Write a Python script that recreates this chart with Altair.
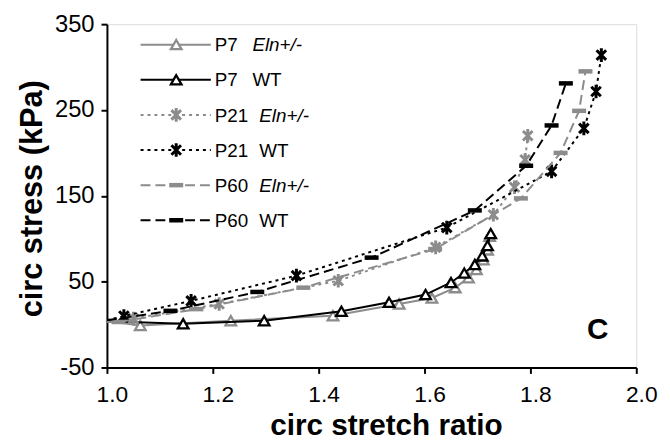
import altair as alt
import pandas as pd

# ---------------- data ----------------
p7_eln_x = [1.00, 1.063, 1.234, 1.427, 1.552, 1.614, 1.658, 1.683, 1.698, 1.711, 1.719, 1.723]
p7_eln_y = [4, -1, 4.5, 10.3, 24, 31, 43, 54.5, 64, 75.6, 87, 103]

p7_wt_x = [1.00, 1.144, 1.297, 1.443, 1.533, 1.602, 1.650, 1.675, 1.695, 1.709, 1.719, 1.725]
p7_wt_y = [4, 1, 4.5, 15.5, 26, 35, 49, 60, 70, 80, 92, 106]

p21_eln_x = [1.00, 1.05, 1.212, 1.437, 1.621, 1.730, 1.770, 1.790, 1.795]
p21_eln_y = [4, 7, 24, 51, 90, 128, 160, 192, 220]

p21_wt_x = [1.00, 1.032, 1.159, 1.358, 1.642, 1.840, 1.901, 1.924, 1.934]
p21_wt_y = [5, 10, 27.6, 57, 113, 178.5, 228.6, 271.6, 314]

p60_eln_x = [1.00, 1.022, 1.169, 1.371, 1.62, 1.782, 1.857, 1.892, 1.904]
p60_eln_y = [3, 3, 18, 43, 88, 147, 200, 249, 295]

p60_wt_x = [1.00, 1.12, 1.284, 1.50, 1.695, 1.792, 1.840, 1.867]
p60_wt_y = [5, 16, 38, 78, 133, 185, 232, 281]

x_ticks = [1.0, 1.2, 1.4, 1.6, 1.8, 2.0]
y_ticks = [-50, 50, 150, 250, 350]

# ---------------- styles ----------------
GRAY = "#8c8c8c"
BLACK = "#000000"
FONT = "Liberation Sans"
ASTER = "M-0.7,-0.7L0.7,0.7M-0.7,0.7L0.7,-0.7M0,-1L0,1"
BAR = "M-1,-0.32L1,-0.32L1,0.32L-1,0.32Z"

series = [
    dict(age="P7", tag="Eln+/-", italic=True, x=p7_eln_x, y=p7_eln_y, color=GRAY, dash=None, marker="tri"),
    dict(age="P7", tag="WT", italic=False, x=p7_wt_x, y=p7_wt_y, color=BLACK, dash=None, marker="tri"),
    dict(age="P21", tag="Eln+/-", italic=True, x=p21_eln_x, y=p21_eln_y, color=GRAY, dash=[3, 4], marker="ast"),
    dict(age="P21", tag="WT", italic=False, x=p21_wt_x, y=p21_wt_y, color=BLACK, dash=[3, 4], marker="ast"),
    dict(age="P60", tag="Eln+/-", italic=True, x=p60_eln_x, y=p60_eln_y, color=GRAY, dash=[10, 5], marker="bar"),
    dict(age="P60", tag="WT", italic=False, x=p60_wt_x, y=p60_wt_y, color=BLACK, dash=[10, 5], marker="bar"),
]


def marker_props(kind, color):
    if kind == "tri":
        return dict(shape="triangle-up", filled=True, fill="white", stroke=color,
                    strokeWidth=2.3, size=115, opacity=1)
    if kind == "ast":
        return dict(shape=ASTER, filled=False, stroke=color, strokeWidth=3,
                    size=190, opacity=1)
    return dict(shape=BAR, filled=True, fill=color, strokeWidth=0, size=200, opacity=1)


def line_props(s):
    p = dict(color=s["color"], strokeWidth=2, clip=True)
    if s["dash"]:
        p["strokeDash"] = s["dash"]
    return p


xscale = alt.Scale(domain=[1.0, 2.0], nice=False, zero=False)
yscale = alt.Scale(domain=[-50, 350], nice=False, zero=False)

xaxis = alt.Axis(values=x_ticks, format=".1f", grid=False, labelFlush=False,
                 labelFont=FONT, labelFontSize=23, labelColor="black", labelPadding=10,
                 labelOffset=5,
                 tickColor="black", tickWidth=2, tickSize=6,
                 domainColor="black", domainWidth=2,
                 title="circ stretch ratio", titleFont=FONT, titleFontSize=30,
                 titleFontWeight="bold", titleColor="black",
                 titleBaseline="alphabetic", titleX=282, titleY=68)
yaxis = alt.Axis(values=y_ticks, grid=False,
                 labelExpr="datum.value < 0 ? '-' + format(-datum.value, 'd') : format(datum.value, 'd')",
                 labelFont=FONT, labelFontSize=24, labelColor="black", labelPadding=7,
                 tickColor="black", tickWidth=2, tickSize=6,
                 domainColor="black", domainWidth=2,
                 title="circ stress (kPa)", titleFont=FONT, titleFontSize=31,
                 titleFontWeight="bold", titleColor="black",
                 titleBaseline="alphabetic", titleAngle=270, titleAlign="center",
                 titleX=-66, titleY=176)

xe = alt.X("x:Q", scale=xscale, axis=xaxis)
ye = alt.Y("y:Q", scale=yscale, axis=yaxis)

layers = []
for s in series:
    df = pd.DataFrame({"x": s["x"], "y": s["y"]})
    layers.append(alt.Chart(df).mark_line(**line_props(s)).encode(x=xe, y=ye))
    layers.append(
        alt.Chart(df).transform_filter("datum.x > 1.001")
        .mark_point(**marker_props(s["marker"], s["color"]))
        .encode(x=xe, y=ye)
    )

# ---------------- legend (drawn manually, pixel positions) ----------------
one = pd.DataFrame({"a": [0]})
row_y0, row_step = 20.7, 35.5
for i, s in enumerate(series):
    yy = row_y0 + i * row_step
    lp = dict(color=s["color"], strokeWidth=2)
    if s["dash"]:
        lp["strokeDash"] = s["dash"]
    layers.append(alt.Chart(one).mark_rule(**lp).encode(
        x=alt.value(34), x2=alt.value(105), y=alt.value(yy)))
    layers.append(alt.Chart(one).mark_point(**marker_props(s["marker"], s["color"])).encode(
        x=alt.value(70), y=alt.value(yy)))
    layers.append(alt.Chart(one).mark_text(
        text=s["age"], font=FONT, fontSize=19, align="left", baseline="alphabetic", color="black"
    ).encode(x=alt.value(109), y=alt.value(yy + 6.8)))
    x2 = 147 if s["age"] == "P7" else 154
    layers.append(alt.Chart(one).mark_text(
        text=s["tag"], font=FONT, fontSize=19, align="left", baseline="alphabetic", color="black",
        fontStyle="italic" if s["italic"] else "normal"
    ).encode(x=alt.value(x2), y=alt.value(yy + 6.8)))

# panel letter
layers.append(alt.Chart(one).mark_text(
    text="C", font=FONT, fontSize=30, fontWeight="bold", align="center", baseline="alphabetic",
    color="black").encode(x=alt.value(496), y=alt.value(318)))

chart = alt.layer(*layers).properties(
    width=535, height=347,
    autosize=alt.AutoSizeParams(type="none"),
    padding={"left": 100, "top": 14, "right": 26, "bottom": 75},
).configure_view(stroke=None).configure(background="white")

chart.save("out.html", embed_options={"renderer": "svg", "actions": False})
